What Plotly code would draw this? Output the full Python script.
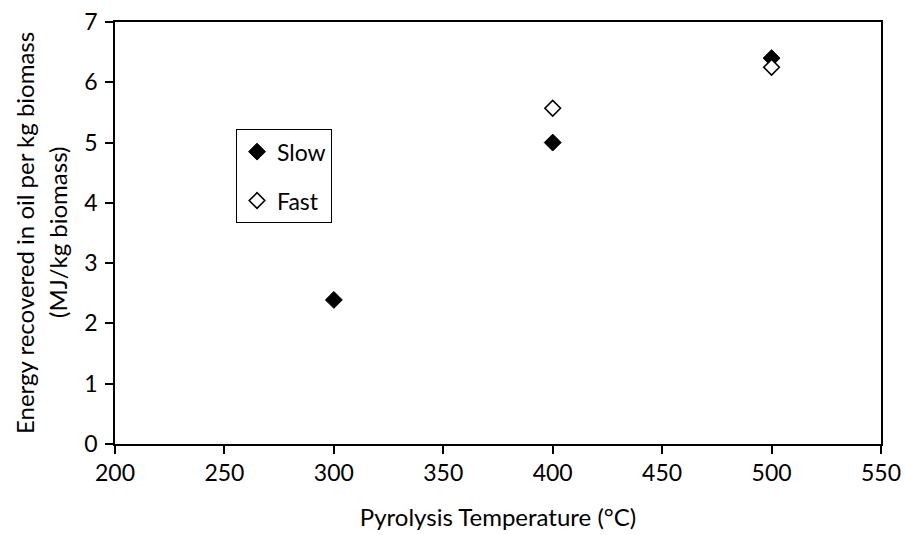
import plotly.graph_objects as go

temps_slow = [300, 400, 500]
energy_slow = [2.39, 5.0, 6.4]
temps_fast = [400, 500]
energy_fast = [5.57, 6.25]

x_ticks = [200, 250, 300, 350, 400, 450, 500, 550]
y_ticks = [0, 1, 2, 3, 4, 5, 6, 7]

y_title_lines = ["Energy recovered in oil per kg biomass", "(MJ/kg biomass)"]
x_title = "Pyrolysis Temperature (°C)"

FONT = "Lato"
L, R, T, B = 115, 25, 22, 91
W, H = 906, 535
plot_w = W - L - R

fig = go.Figure()
fig.add_trace(go.Scatter(
    x=temps_slow, y=energy_slow, mode="markers", name="Slow",
    legendgroup="a",
    marker=dict(symbol="diamond", size=13, color="black",
                line=dict(color="black", width=1)),
))
fig.add_trace(go.Scatter(
    x=temps_fast, y=energy_fast, mode="markers", name="Fast",
    legendgroup="b",
    marker=dict(symbol="diamond", size=12, color="white",
                line=dict(color="black", width=1.6)),
))

axis_common = dict(
    showgrid=False, zeroline=False, showline=True, linecolor="black",
    linewidth=1.5, mirror=True, ticks="outside", ticklen=8,
    tickcolor="black", tickwidth=1.5, automargin=False,
    tickfont=dict(family=FONT, size=23, color="black"),
)

# y-axis title as two rotated annotations (px centers of each line)
for text, px in zip(y_title_lines, [24, 57]):
    fig.add_annotation(
        text=text, xref="paper", yref="paper",
        x=(px - L) / plot_w, y=0.5, xanchor="center", yanchor="middle",
        textangle=-90, showarrow=False,
        font=dict(family=FONT, size=24, color="black"),
    )

fig.update_layout(
    width=W, height=H,
    margin=dict(l=L, r=R, t=T, b=B),
    paper_bgcolor="white", plot_bgcolor="white",
    font=dict(family=FONT, size=22, color="black"),
    showlegend=True,
    legend=dict(
        x=0.158, y=0.746, xanchor="left", yanchor="top",
        bordercolor="black", borderwidth=1, bgcolor="white",
        traceorder="grouped", tracegroupgap=16,
        font=dict(family=FONT, size=23, color="black"),
        itemwidth=30,
    ),
    xaxis=dict(
        range=[200, 550], tickvals=x_ticks,
        title=dict(text=x_title, standoff=24,
                   font=dict(family=FONT, size=24, color="black")),
        **axis_common,
    ),
    yaxis=dict(
        range=[0, 7], tickvals=y_ticks, ticklabelstandoff=3,
        **axis_common,
    ),
)

fig.write_html("out.html")
